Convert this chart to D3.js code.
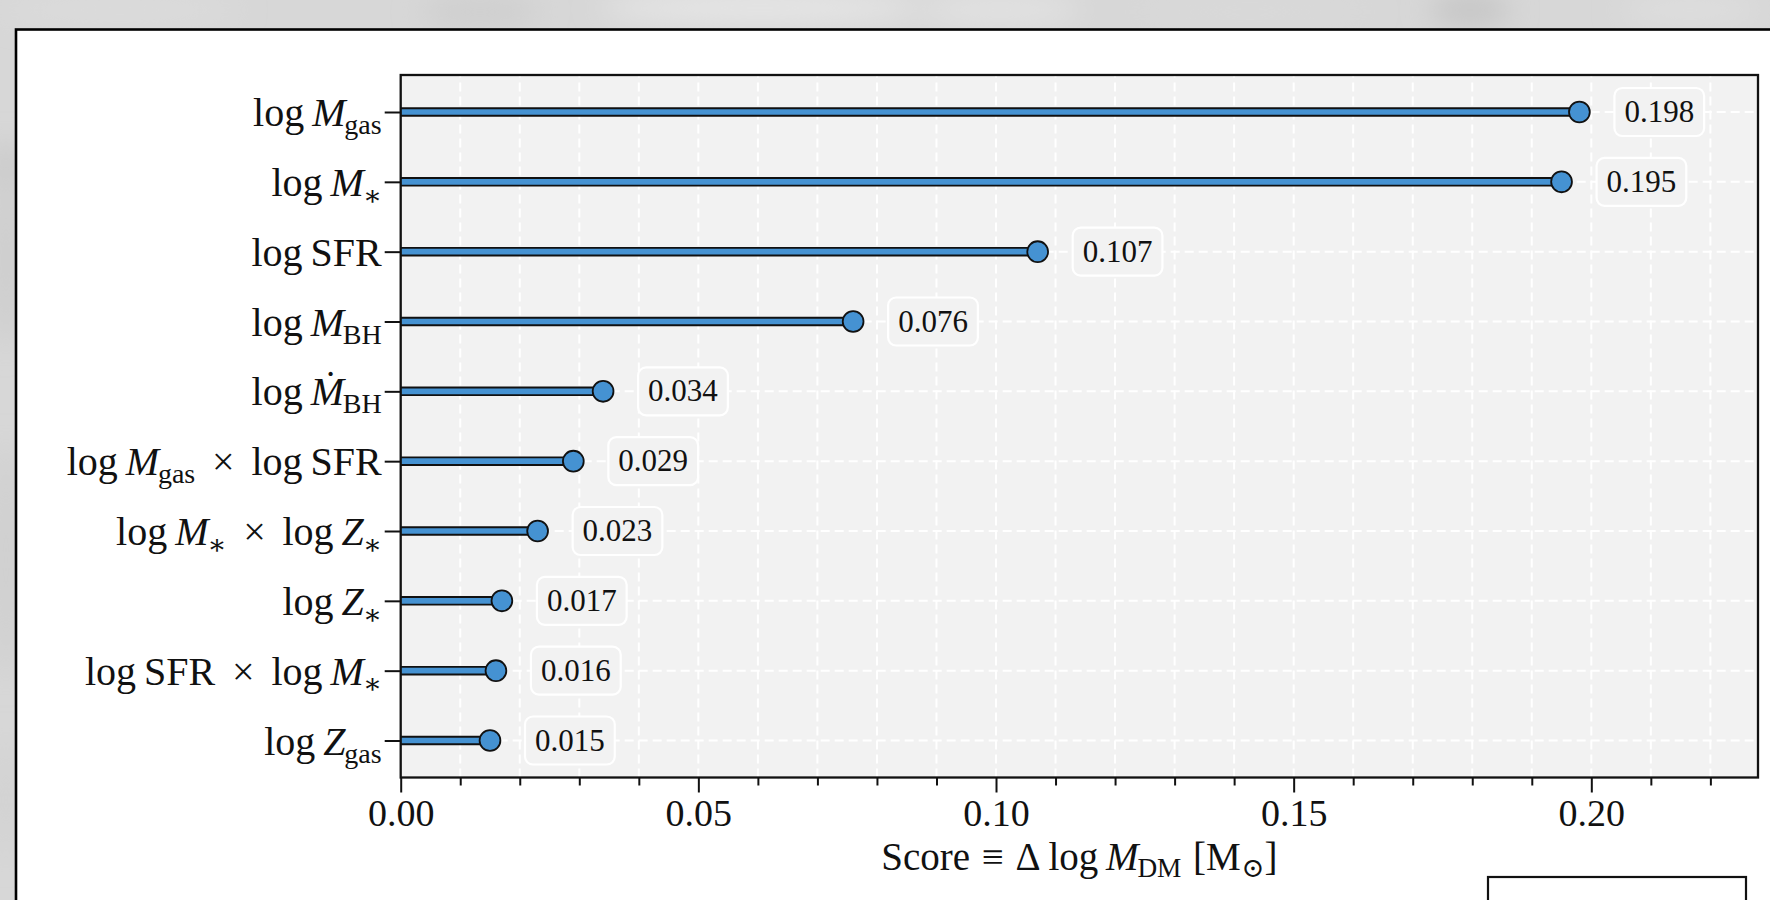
<!DOCTYPE html>
<html>
<head>
<meta charset="utf-8">
<script src="https://cdn.jsdelivr.net/npm/d3@7"></script>
<style>
  html, body { margin: 0; padding: 0; width: 1770px; height: 900px; overflow: hidden; background: #d8d8d8; }
  svg text { font-family: "Liberation Serif", "DejaVu Serif", serif; fill: #111; }
</style>
</head>
<body>
<svg id="chart" width="1770" height="900"></svg>
<script>
// Feature-importance scores (drop in log M_DM when the feature is removed)
const features = [
  "log M_gas",
  "log M_*",
  "log SFR",
  "log M_BH",
  "log Ṁ_BH",
  "log M_gas × log SFR",
  "log M_* × log Z_*",
  "log Z_*",
  "log SFR × log M_*",
  "log Z_gas"
];
const scores = [0.198, 0.195, 0.107, 0.076, 0.034, 0.029, 0.023, 0.017, 0.016, 0.015];
const xMajorTicks = [0.00, 0.05, 0.10, 0.15, 0.20];
const xMinorTicks = [0.01, 0.02, 0.03, 0.04, 0.06, 0.07, 0.08, 0.09, 0.11, 0.12, 0.13, 0.14,
                     0.16, 0.17, 0.18, 0.19, 0.21, 0.22];
const xDomain = [0, 0.228];
const xLabel = "Score ≡ Δ log M_DM [M_⊙]";

const svg = d3.select("#chart");

// ---------- backdrop around the figure ----------
const defs = svg.append("defs");
defs.append("filter").attr("id", "soft").attr("x", "-50%").attr("y", "-50%")
  .attr("width", "200%").attr("height", "200%")
  .append("feGaussianBlur").attr("stdDeviation", 14);
const backdrop = svg.append("g");
backdrop.append("rect").attr("width", 1770).attr("height", 900).attr("fill", "#d7d7d7");
const blots = backdrop.append("g").attr("filter", "url(#soft)");
[[120, 10, 120, 14, "#dcdcdc"], [480, 12, 60, 18, "#cfcfcf"], [760, 8, 160, 16, "#e6e6e6"],
 [1000, 10, 80, 16, "#e2e2e2"], [1250, 12, 120, 14, "#d9d9d9"], [1470, 10, 40, 18, "#c6c6c6"],
 [1690, 10, 70, 16, "#dedede"], [6, 170, 10, 30, "#c2c2c2"], [6, 260, 10, 90, "#c8c8c8"],
 [6, 560, 10, 120, "#cbcbcb"], [6, 800, 10, 60, "#d0d0d0"]]
  .forEach(([cx, cy, rx, ry, c]) =>
    blots.append("ellipse").attr("cx", cx).attr("cy", cy).attr("rx", rx).attr("ry", ry).attr("fill", c));

// ---------- figure panel ----------
svg.append("rect").attr("x", 16).attr("y", 29.5).attr("width", 1800).attr("height", 920)
  .attr("fill", "#ffffff").attr("stroke", "#000").attr("stroke-width", 2.6);

// ---------- plot area ----------
const plot = { left: 400.7, right: 1758, top: 75, bottom: 777.5 };
const x = d3.scaleLinear().domain(xDomain).range([plot.left, plot.right]);
const y = d3.scalePoint().domain(features).range([112, 740.5]);

svg.append("rect")
  .attr("x", plot.left).attr("y", plot.top)
  .attr("width", plot.right - plot.left).attr("height", plot.bottom - plot.top)
  .attr("fill", "#f2f2f2");

// grid: dashed white lines at every major and minor x tick and at each category
const grid = svg.append("g").attr("stroke", "#ffffff").attr("stroke-width", 2)
  .attr("stroke-dasharray", "9,5");
grid.selectAll("line.gx").data(xMinorTicks.concat(xMajorTicks.slice(1))).join("line")
  .attr("class", "gx")
  .attr("x1", d => x(d)).attr("x2", d => x(d))
  .attr("y1", plot.bottom).attr("y2", plot.top);
grid.selectAll("line.gy").data(features).join("line")
  .attr("class", "gy")
  .attr("x1", plot.left).attr("x2", plot.right)
  .attr("y1", d => y(d)).attr("y2", d => y(d));

const rows = features.map((f, i) => ({ f, v: scores[i] }));

// stems: dark outline under a blue core
const stems = svg.append("g");
stems.selectAll("line.edge").data(rows).join("line").attr("class", "edge")
  .attr("x1", x(0)).attr("x2", d => x(d.v))
  .attr("y1", d => y(d.f)).attr("y2", d => y(d.f))
  .attr("stroke", "#111").attr("stroke-width", 9.5);
stems.selectAll("line.core").data(rows).join("line").attr("class", "core")
  .attr("x1", x(0)).attr("x2", d => x(d.v))
  .attr("y1", d => y(d.f)).attr("y2", d => y(d.f))
  .attr("stroke", "#4592D2").attr("stroke-width", 5.6);

// heads
svg.append("g").selectAll("circle").data(rows).join("circle")
  .attr("cx", d => x(d.v)).attr("cy", d => y(d.f)).attr("r", 10.4)
  .attr("fill", "#4592D2").attr("stroke", "#111").attr("stroke-width", 1.8);

// value badges
const badges = svg.append("g").selectAll("g").data(rows).join("g");
const badgeText = badges.append("text")
  .attr("x", d => x(d.v) + 45).attr("y", d => y(d.f) + 10)
  .attr("font-size", 31)
  .text(d => d3.format(".3f")(d.v));
badges.insert("rect", "text")
  .attr("x", d => x(d.v) + 35).attr("y", d => y(d.f) - 24)
  .attr("height", 48).attr("rx", 8).attr("ry", 8)
  .attr("fill", "#f2f2f2").attr("stroke", "#ffffff").attr("stroke-width", 2.2)
  .attr("width", function (d, i) { return badgeText.nodes()[i].getComputedTextLength() + 20; });

// spines
svg.append("rect")
  .attr("x", plot.left).attr("y", plot.top)
  .attr("width", plot.right - plot.left).attr("height", plot.bottom - plot.top)
  .attr("fill", "none").attr("stroke", "#111").attr("stroke-width", 2.3);

// ---------- x axis ----------
const xAxisMinor = d3.axisBottom(x).tickValues(xMinorTicks).tickSize(8).tickFormat("");
const xAxisMajor = d3.axisBottom(x).tickValues(xMajorTicks).tickSize(15)
  .tickPadding(9).tickFormat(d3.format(".2f"));
const gxMinor = svg.append("g").attr("transform", `translate(0,${plot.bottom})`).call(xAxisMinor);
const gxMajor = svg.append("g").attr("transform", `translate(0,${plot.bottom})`).call(xAxisMajor);
[gxMinor, gxMajor].forEach(g => {
  g.select(".domain").remove();
  g.selectAll(".tick line").attr("stroke", "#111").attr("stroke-width", 2);
});
gxMajor.selectAll(".tick text")
  .attr("font-family", null).attr("font-size", 38).attr("fill", "#111")
  .attr("dy", null).attr("y", 48.5);

// ---------- y axis ----------
const yAxis = d3.axisLeft(y).tickSize(16).tickFormat("");
const gy = svg.append("g").attr("transform", `translate(${plot.left},0)`).call(yAxis);
gy.select(".domain").remove();
gy.selectAll(".tick line").attr("stroke", "#111").attr("stroke-width", 2);

// math-style label writer: italic symbols, roman words, subscripts
const italicSymbols = new Set(["M", "Z", "Ṁ"]);
function writeMath(textSel, str, size) {
  const subShift = size * 0.2;
  const tokens = str.split(" ");
  let pendingDy = 0;
  tokens.forEach((tok, i) => {
    let gap = 0;
    if (i > 0) {
      const prev = tokens[i - 1];
      if (tok === "×" || prev === "×") gap = size * 0.42;
      else if (tok === "≡" || prev === "≡") gap = size * 0.3;
      else if (tok.startsWith("[")) gap = size * 0.3;
      else gap = size * 0.2;
    }
    const us = tok.indexOf("_");
    let base = us >= 0 ? tok.slice(0, us) : tok;
    let sub = us >= 0 ? tok.slice(us + 1) : null;
    let lead = "";
    if (base.startsWith("[")) { lead = "["; base = base.slice(1); }
    const italic = italicSymbols.has(base) && lead === "";
    textSel.append("tspan")
      .attr("dx", gap)
      .attr("dy", pendingDy || null)
      .attr("font-size", pendingDy ? size : null)
      .attr("font-style", italic ? "italic" : null)
      .text(lead + base);
    pendingDy = 0;
    if (sub !== null) {
      let tail = "";
      if (sub.endsWith("]")) { tail = "]"; sub = sub.slice(0, -1); }
      const isStar = sub === "*";
      const shift = isStar ? subShift + size * 0.02 : subShift;
      textSel.append("tspan")
        .attr("dx", italic ? -size * 0.03 : size * 0.02)
        .attr("dy", shift)
        .attr("font-size", size * 0.7)
        .text(isStar ? "∗" : sub);
      pendingDy = -shift;
      if (tail) {
        textSel.append("tspan").attr("dy", pendingDy).attr("font-size", size).text(tail);
        pendingDy = 0;
      }
    }
  });
}

const ySize = 40;
svg.append("g").selectAll("text").data(features).join("text")
  .attr("x", plot.left - 19).attr("y", d => y(d) + 14)
  .attr("text-anchor", "end").attr("font-size", ySize)
  .each(function (d) { writeMath(d3.select(this), d, ySize); });

// x-axis title
const xt = svg.append("text")
  .attr("x", (plot.left + plot.right) / 2).attr("y", 869.5)
  .attr("text-anchor", "middle").attr("font-size", 39);
writeMath(xt, xLabel, 39);

// legend frame peeking in at the lower right
svg.append("rect").attr("x", 1488).attr("y", 877).attr("width", 258).attr("height", 60)
  .attr("fill", "#ffffff").attr("stroke", "#111").attr("stroke-width", 2.2);
</script>
</body>
</html>
